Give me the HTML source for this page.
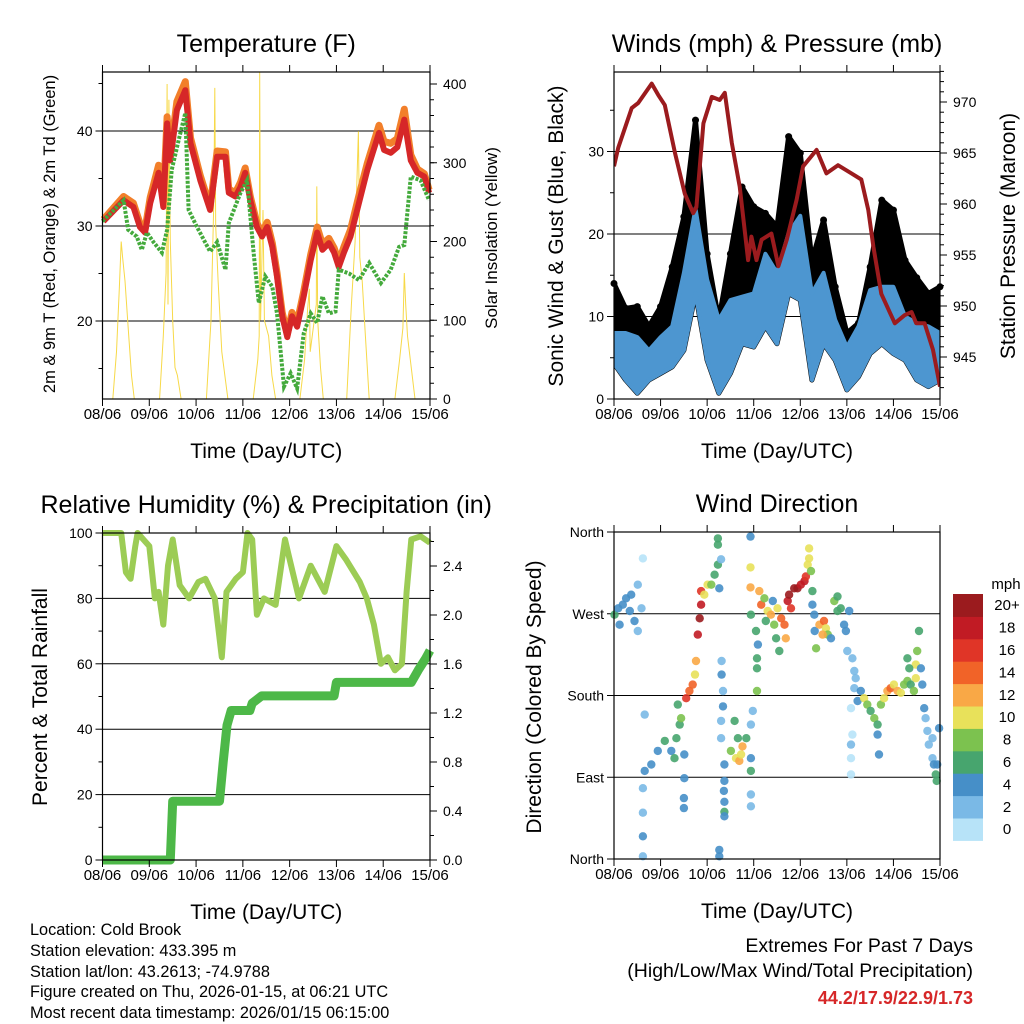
<!DOCTYPE html>
<html><head><meta charset="utf-8"><style>
html,body{margin:0;padding:0;background:#fff;}
svg{display:block;font-family:"Liberation Sans",Arial,sans-serif;}
</style></head><body>
<svg id="svg" width="1024" height="1024" viewBox="0 0 1024 1024" xmlns="http://www.w3.org/2000/svg">
<rect width="1024" height="1024" fill="#fff"/>
<g id="p1"></g>
<g id="p2"></g>
<g id="p3"></g>
<g id="p4"></g>
<g id="cb"></g>
<g font-size="16.3" fill="#000">
<text x="30" y="935">Location: Cold Brook</text>
<text x="30" y="956">Station elevation: 433.395 m</text>
<text x="30" y="977">Station lat/lon: 43.2613; -74.9788</text>
<text x="30" y="997">Figure created on Thu, 2026-01-15, at 06:21 UTC</text>
<text x="30" y="1018">Most recent data timestamp: 2026/01/15 06:15:00</text>
</g>
<g font-size="19.5" text-anchor="end">
<text x="973" y="952">Extremes For Past 7 Days</text>
<text x="973" y="977">(High/Low/Max Wind/Total Precipitation)</text>
<text x="973" y="1004" font-size="18" font-weight="bold" fill="#d62728">44.2/17.9/22.9/1.73</text>
</g>
</svg>
<script>
// ---------- data ----------
const dayLabels=["08/06","09/06","10/06","11/06","12/06","13/06","14/06","15/06"];
// Temperature panel
const tRedTime=[0.02,0.45,0.66,0.80,0.91,1.02,1.20,1.30,1.38,1.45,1.59,1.77,1.88,2.09,2.30,2.45,2.63,2.70,2.84,2.95,3.05,3.16,3.30,3.41,3.52,3.63,3.73,3.84,3.95,4.05,4.16,4.30,4.45,4.59,4.70,4.84,4.95,5.05,5.16,5.30,5.48,5.66,5.91,6.02,6.16,6.30,6.45,6.59,6.73,6.88,6.98];
const tRed=[30.5,32.7,32.0,29.9,29.3,32.4,35.6,32.0,40.8,36.9,42.2,44.3,38.7,34.8,31.7,37.3,37.3,33.5,33.1,34.1,35.6,32.7,29.9,28.9,29.9,27.8,24.7,20.5,18.3,20.5,19.4,22.6,26.4,29.3,27.5,28.2,27.2,25.7,27.2,28.9,32.4,35.9,39.8,38.0,37.7,38.3,41.2,36.9,35.6,35.2,33.5];
const tOrange=[30.7,33.1,32.4,30.3,29.7,33.0,36.4,32.6,41.5,37.6,43.1,45.2,39.3,35.3,32.0,37.9,37.8,33.9,33.5,34.6,36.1,33.1,30.3,29.3,30.4,28.2,25.1,20.9,18.6,20.9,19.8,23.1,27.0,29.9,28.1,28.7,27.7,26.2,27.8,29.6,33.2,36.6,40.6,38.9,38.7,39.2,42.3,37.5,36.0,35.5,33.8];
const tdTime=[0,0.45,0.55,0.73,0.84,0.95,1.09,1.27,1.38,1.48,1.63,1.77,1.84,2.02,2.30,2.45,2.63,2.70,2.95,3.09,3.23,3.34,3.48,3.63,3.73,3.88,4.02,4.16,4.30,4.45,4.59,4.70,4.84,4.98,5.05,5.27,5.48,5.70,5.95,6.16,6.34,6.45,6.59,6.80,6.98];
const tdVal=[30.5,32.7,29.6,28.9,27.5,29.3,28.3,27.2,29.6,35.9,39.1,41.9,31.7,29.9,27.3,28.3,25.4,30.3,33.5,34.8,27.2,21.9,24.7,23.6,20.8,13.1,14.5,12.9,18.7,20.8,19.8,22.6,20.8,21.0,25.4,25.0,24.3,26.1,24.0,25.4,27.8,28.0,35.2,34.8,32.7];
const solTime=[0,0.22,0.30,0.36,0.40,0.43,0.48,0.55,0.62,0.68,1.22,1.30,1.36,1.38,1.40,1.42,1.45,1.50,1.55,1.60,1.68,2.22,2.32,2.38,2.40,2.42,2.47,2.55,2.68,3.22,3.32,3.35,3.36,3.38,3.43,3.46,3.55,3.62,3.70,4.22,4.32,4.38,4.42,4.44,4.57,4.58,4.60,4.66,4.72,5.22,5.32,5.40,5.47,5.50,5.55,5.62,5.70,6.25,6.35,6.42,6.45,6.48,6.52,6.58,6.68,7.0];
const solVal=[0,0,60,140,200,180,150,90,30,0,0,80,160,400,120,380,200,100,40,30,0,0,100,250,395,220,150,60,0,0,50,80,415,100,240,100,80,30,0,0,50,110,140,60,120,270,100,40,0,0,120,200,340,180,150,80,0,0,50,90,160,120,80,50,0,0];
// Winds panel (3-hourly envelopes, t = i*0.25 day)
const windHi=[8.0,8.0,7.5,5.9,7.5,8.8,15.3,23.1,14.5,9.6,12.0,12.4,12.8,17.6,15.3,20.1,22.2,12.8,15.3,9.6,6.3,8.8,13.2,13.6,13.6,10.0,9.2,8.8,8.0];
const windLo=[4.3,2.3,0.7,2.3,3.1,3.9,5.9,12.8,4.7,0.7,3.1,6.7,6.3,8.8,6.7,12.8,12.0,2.3,6.7,4.7,1.1,2.7,5.5,6.7,5.5,4.7,2.3,1.5,2.3];
const gustHi=[14.0,11.0,11.2,8.8,11.2,16.0,22.1,33.8,17.6,9.6,17.6,25.7,23.3,22.5,20.9,31.8,29.8,16.8,21.7,13.6,8.0,9.2,16.0,24.1,22.9,16.8,14.7,12.8,13.6];
const presTime=[0,0.09,0.38,0.52,0.81,0.95,1.09,1.31,1.52,1.70,1.77,1.92,2.10,2.27,2.38,2.53,2.70,2.88,2.95,3.06,3.17,3.38,3.53,3.71,3.92,4.06,4.35,4.56,4.81,5.10,5.31,5.46,5.57,5.74,6.03,6.24,6.39,6.49,6.67,6.85,7.0];
const presVal=[963.7,965.5,969.4,969.9,971.8,970.7,969.7,965.0,961.0,959.1,959.7,967.9,970.5,970.2,970.9,966.0,961.7,954.5,956.8,954.5,956.5,957.1,953.9,956.5,960.4,963.7,965.3,963.0,963.8,963.0,962.4,959.4,955.8,951.2,948.3,949.1,949.4,948.3,948.3,945.7,942.1];
// Humidity panel
const rhTime=[0,0.4,0.5,0.6,0.7,0.75,1.0,1.12,1.2,1.3,1.4,1.5,1.65,1.85,2.05,2.2,2.4,2.55,2.65,2.85,3.0,3.1,3.2,3.3,3.45,3.7,3.9,4.0,4.2,4.45,4.75,5.0,5.2,5.5,5.65,5.8,5.95,6.1,6.25,6.4,6.5,6.6,6.8,7.0];
const rhVal=[100,100,88,86,96,100,96,80,82,72,90,98,84,80,85,86,80,62,82,86,88,100,98,75,80,78,98,92,80,90,82,96,92,85,80,72,60,62,58,60,82,98,99,97];
const prTime=[0,1.45,1.50,2.50,2.58,2.66,2.75,3.15,3.2,3.4,4.95,5.0,6.6,6.75,6.9,7.0];
const prVal=[0,0,0.48,0.48,0.80,1.10,1.22,1.22,1.28,1.34,1.34,1.45,1.45,1.55,1.64,1.71];
// Wind direction panel
const wdTime=[0.01,0.09,0.19,0.26,0.34,0.44,0.51,0.59,0.12,0.37,0.62,0.51,0.62,0.62,0.62,0.62,0.66,0.80,0.94,1.09,1.23,1.30,1.34,1.41,1.44,1.51,1.51,1.50,1.50,0.66,1.37,1.55,1.62,1.69,1.76,1.74,1.80,1.84,1.87,1.87,1.94,2.01,2.09,2.16,2.23,2.23,2.23,2.26,2.30,2.31,2.31,2.34,2.34,2.30,2.30,2.37,2.37,2.36,2.37,2.37,2.37,2.26,2.26,2.51,2.62,2.69,2.73,2.76,2.66,2.59,2.84,2.94,2.98,2.94,2.94,2.94,2.94,2.93,2.93,2.93,3.05,3.07,3.07,3.07,3.09,2.94,3.12,3.16,3.23,3.30,3.37,3.44,3.48,3.51,3.59,3.66,3.69,3.73,3.76,3.80,3.87,3.94,4.01,4.09,4.12,4.16,4.19,4.19,4.23,3.41,3.55,3.26,4.26,4.26,4.30,4.31,4.34,4.41,4.51,4.55,4.59,4.48,4.66,4.73,4.80,4.80,4.87,4.94,4.98,5.05,5.01,5.12,5.16,5.19,5.16,5.23,5.30,5.09,5.12,5.09,5.09,5.09,5.37,5.44,5.51,5.59,5.66,5.66,5.69,5.73,5.80,5.87,5.94,6.01,6.09,6.16,6.23,6.30,6.37,6.44,6.48,6.48,6.30,6.34,6.51,6.55,6.59,6.62,6.66,6.69,6.73,6.76,6.84,6.87,6.91,6.94,6.98,6.84,6.93];
const wdDir=[269,276,280,287,273,262,251,276,258,291,331,302,78,51,25,3,97,104,119,130,119,111,133,148,155,115,89,67,56,159,170,177,185,192,218,203,247,265,280,295,291,302,302,313,324,346,353,298,330,218,203,185,168,152,133,104,86,75,63,52,47,10,3,119,111,108,115,124,133,152,133,148,163,111,97,71,58,355,321,299,251,221,210,185,236,269,295,280,287,273,269,258,243,276,265,258,243,284,291,276,298,298,302,306,311,324,342,331,317,284,229,262,295,280,269,251,232,258,262,254,247,247,243,284,273,289,276,258,251,273,229,221,207,199,188,174,185,166,137,126,111,93,177,170,163,155,148,137,115,170,177,185,188,192,185,183,192,196,192,185,199,214,221,210,229,251,210,192,166,155,141,126,111,104,93,104,144,133,86];
const wdSpd=[6,4,4,4,4,4,2,2,4,4,0,2,2,2,4,2,4,4,4,6,4,6,6,6,8,4,4,4,4,2,6,16,14,14,12,10,18,20,18,16,10,10,8,6,6,6,6,4,2,2,4,2,4,2,2,4,4,4,4,6,4,4,4,8,10,12,10,12,6,6,6,2,2,4,6,2,2,4,10,12,6,6,6,8,4,6,12,14,8,10,12,8,6,10,14,14,12,18,20,16,20,20,18,18,16,10,10,10,8,4,6,6,6,4,4,4,8,12,14,10,8,12,4,8,6,6,6,4,4,4,2,2,2,2,2,4,4,0,0,2,0,0,10,8,6,8,6,4,4,8,10,12,14,10,12,10,8,8,6,8,10,10,6,6,8,6,4,4,4,2,2,2,2,4,6,4,4,2,6];
const cbLabels=["0","2","4","6","8","10","12","14","16","18","20+"];
const cbColors=["#b7e3f8","#7ab9e6","#468fc8","#47a56e","#7cc24f","#e8e15a","#f9a846","#f16328","#e03527","#c11b24","#9b1b1e"];

// ---------- helpers ----------
const NS="http://www.w3.org/2000/svg";
function mk(parent,tag,attrs,text){const e=document.createElementNS(NS,tag);for(const k in attrs)e.setAttribute(k,attrs[k]);if(text!==undefined)e.textContent=text;parent.appendChild(e);return e;}
function poly(xs,ys,fx,fy){return xs.map((t,i)=>fx(t).toFixed(1)+","+fy(ys[i]).toFixed(1)).join(" ");}

function frame(g,L,R,T,B,xs,title){
  for(let d=0;d<=7;d++){
    const x=xs(d);
    let tk=mk(g,"line",{x1:x,x2:x,y1:B,y2:B+7,stroke:"#000","stroke-width":1});
    
    
    tk=mk(g,"line",{x1:x,x2:x,y1:T,y2:T-7,stroke:"#000","stroke-width":1});
    
    
    const lb=mk(g,"text",{x:x,y:B+20,"text-anchor":"middle","font-size":15},dayLabels[d]);
    
    
  }
  const xt=mk(g,"text",{x:(L+R)/2,y:B+59,"text-anchor":"middle","font-size":21},"Time (Day/UTC)");
  
  
  const tt=mk(g,"text",{x:(L+R)/2,y:T-20,"text-anchor":"middle","font-size":25},title);
  
  
}
function box(g,L,R,T,B){
  const r=mk(g,"rect",{x:L,y:T,width:R-L,height:B-T,fill:"none",stroke:"#000","stroke-width":1.2});
  
  
}
function leftAxis(g,L,R,vals,labels,fy,minors,grid){
  vals.forEach((v,i)=>{const y=fy(v);
    if(grid){const gl=mk(g,"line",{x1:L,x2:R,y1:y,y2:y,stroke:"#000","stroke-width":1});
      
      }
    const t=mk(g,"line",{x1:L-7,x2:L,y1:y,y2:y,stroke:"#000"});
    
    
    const lb=mk(g,"text",{x:L-10,y:y+5,"text-anchor":"end","font-size":14},labels[i]);
    
    });
  (minors||[]).forEach(v=>{const y=fy(v);const t=mk(g,"line",{x1:L-4,x2:L,y1:y,y2:y,stroke:"#000"});
    
    });
}
function rightAxis(g,R,vals,labels,fy,minors){
  vals.forEach((v,i)=>{const y=fy(v);
    const t=mk(g,"line",{x1:R,x2:R+7,y1:y,y2:y,stroke:"#000"});
    
    
    const lb=mk(g,"text",{x:R+13,y:y+5,"font-size":14},labels[i]);
    
    });
  (minors||[]).forEach(v=>{const y=fy(v);const t=mk(g,"line",{x1:R,x2:R+4,y1:y,y2:y,stroke:"#000"});
    
    });
}
function vtitle(g,x,y,size,txt,name){
  const t=mk(g,"text",{x:x,y:y,"text-anchor":"middle","font-size":size,transform:`rotate(-90 ${x} ${y})`},txt);
  
  
}
function range(a,b,s){const r=[];for(let v=a;v<=b+1e-9;v+=s)r.push(+v.toFixed(3));return r;}

// ---------- Panel 1: Temperature ----------
(function(){
  const g=document.getElementById("p1");const L=102.5,R=430,T=72,B=399;
  const xs=d=>L+d*(R-L)/7, yT=v=>321-(v-20)*9.5, yS=v=>399-v*0.7875;
  leftAxis(g,L,R,[20,30,40],["20","30","40"],yT,[15,25,35,45],true);
  rightAxis(g,R,[0,100,200,300,400],["0","100","200","300","400"],yS,range(20,400,20));
  const cp=mk(g,"clipPath",{id:"c1"});mk(cp,"rect",{x:L,y:T,width:R-L,height:B-T});
  const s=mk(g,"polyline",{points:poly(solTime,solVal,xs,yS),fill:"none",stroke:"#f7d948","stroke-width":1,"clip-path":"url(#c1)"});
  
  
  const o=mk(g,"polyline",{points:poly(tRedTime,tOrange,xs,yT),fill:"none",stroke:"#f27f2a","stroke-width":7,"stroke-linejoin":"round"});
  
  
  const r=mk(g,"polyline",{points:poly(tRedTime,tRed,xs,yT),fill:"none",stroke:"#d62728","stroke-width":6,"stroke-linejoin":"round"});
  
  
  const d=mk(g,"polyline",{points:poly(tdTime,tdVal,xs,yT),fill:"none",stroke:"#44aa3c","stroke-width":4,"stroke-dasharray":"3 1.5"});
  
  
  box(g,L,R,T,B);
  frame(g,L,R,T,B,xs,"Temperature (F)");
  vtitle(g,55,234,16.5,"2m & 9m T (Red, Orange) & 2m Td (Green)","y-axis-title");
  vtitle(g,497,238,17,"Solar Insolation (Yellow)","y2-axis-title");
})();

// ---------- Panel 2: Winds ----------
(function(){
  const g=document.getElementById("p2");const L=614,R=940,T=72,B=399;
  const xs=d=>L+d*(R-L)/7, yV=v=>399-v*8.25, yP=p=>357-(p-945)*10.2;
  leftAxis(g,L,R,[0,10,20,30],["0","10","20","30"],yV,[5,15,25,35],true);
  rightAxis(g,R,[945,950,955,960,965,970],["945","950","955","960","965","970"],yP,range(942,973,1));
  const cp=mk(g,"clipPath",{id:"c2"});mk(cp,"rect",{x:L,y:T,width:R-L,height:B-T});
  const tt=windHi.map((_,i)=>i*0.25);
  const gpts=poly(tt,gustHi,xs,yV)+" "+poly(tt.slice().reverse(),windLo.slice().reverse(),xs,yV);
  const gp=mk(g,"polygon",{points:gpts,fill:"#000",stroke:"#000","stroke-width":5,"stroke-linejoin":"round","clip-path":"url(#c2)"});
  
  
  gustHi.forEach((v,i)=>{const c=mk(g,"circle",{cx:xs(tt[i]),cy:yV(v),r:3.5,fill:"#000"});
    
    });
  const wpts=poly(tt,windHi,xs,yV)+" "+poly(tt.slice().reverse(),windLo.slice().reverse(),xs,yV);
  const wp=mk(g,"polygon",{points:wpts,fill:"#4d96d0",stroke:"#4d96d0","stroke-width":4,"stroke-linejoin":"round","clip-path":"url(#c2)"});
  
  
  const pl=mk(g,"polyline",{points:poly(presTime,presVal,xs,yP),fill:"none",stroke:"#9b1b1e","stroke-width":4,"stroke-linejoin":"round","clip-path":"url(#c2)"});
  
  
  box(g,L,R,T,B);
  frame(g,L,R,T,B,xs,"Winds (mph) & Pressure (mb)");
  vtitle(g,563,236,21,"Sonic Wind & Gust (Blue, Black)","y-axis-title");
  vtitle(g,1015,236,21,"Station Pressure (Maroon)","y2-axis-title");
})();

// ---------- Panel 3: Humidity ----------
(function(){
  const g=document.getElementById("p3");const L=102.5,R=430,T=533,B=860;
  const xs=d=>L+d*(R-L)/7, yR=v=>860-v*3.27, yPr=v=>860-v*122.5;
  leftAxis(g,L,R,[0,20,40,60,80,100],["0","20","40","60","80","100"],yR,range(10,90,20),true);
  rightAxis(g,R,[0,0.4,0.8,1.2,1.6,2.0,2.4],["0.0","0.4","0.8","1.2","1.6","2.0","2.4"],yPr,range(0.2,2.6,0.4));
  const rh=mk(g,"polyline",{points:poly(rhTime,rhVal,xs,yR),fill:"none",stroke:"#9ccc55","stroke-width":6,"stroke-linejoin":"round"});
  
  
  const pr=mk(g,"polyline",{points:poly(prTime,prVal,xs,yPr),fill:"none",stroke:"#4db848","stroke-width":9,"stroke-linejoin":"round"});
  
  
  box(g,L,R,T,B);
  frame(g,L,R,T,B,xs,"Relative Humidity (%) & Precipitation (in)");
  vtitle(g,47,697,21,"Percent & Total Rainfall","y-axis-title");
})();

// ---------- Panel 4: Wind direction ----------
(function(){
  const g=document.getElementById("p4");const L=614,R=940,T=532,B=859;
  const xs=d=>L+d*(R-L)/7, yD=v=>859-v*0.9083;
  leftAxis(g,L,R,[0,90,180,270,360],["North","East","South","West","North"],yD,[],true);
  wdTime.forEach((t,i)=>{
    const c=mk(g,"circle",{cx:xs(t).toFixed(1),cy:yD(wdDir[i]).toFixed(1),r:4.2,fill:cbColors[Math.min(10,Math.round(wdSpd[i]/2))],"fill-opacity":0.9});
    
    
  });
  box(g,L,R,T,B);
  frame(g,L,R,T,B,xs,"Wind Direction");
  vtitle(g,541,697,21,"Direction (Colored By Speed)","y-axis-title");
})();

// ---------- Colorbar ----------
(function(){
  const g=document.getElementById("cb");const x0=953,w=30,y0=594,h=22.4;
  const t=mk(g,"text",{x:1006,y:589,"text-anchor":"middle","font-size":15},"mph");
  
  
  cbColors.forEach((c,i)=>{const k=10-i;const y=y0+k*h;
    const r=mk(g,"rect",{x:x0,y:y,width:w,height:h+0.5,fill:c});
    
    
    const l=mk(g,"text",{x:1007,y:y+h/2+5,"text-anchor":"middle","font-size":15},cbLabels[i]);
    
    });
})();
</script>
</body></html>
